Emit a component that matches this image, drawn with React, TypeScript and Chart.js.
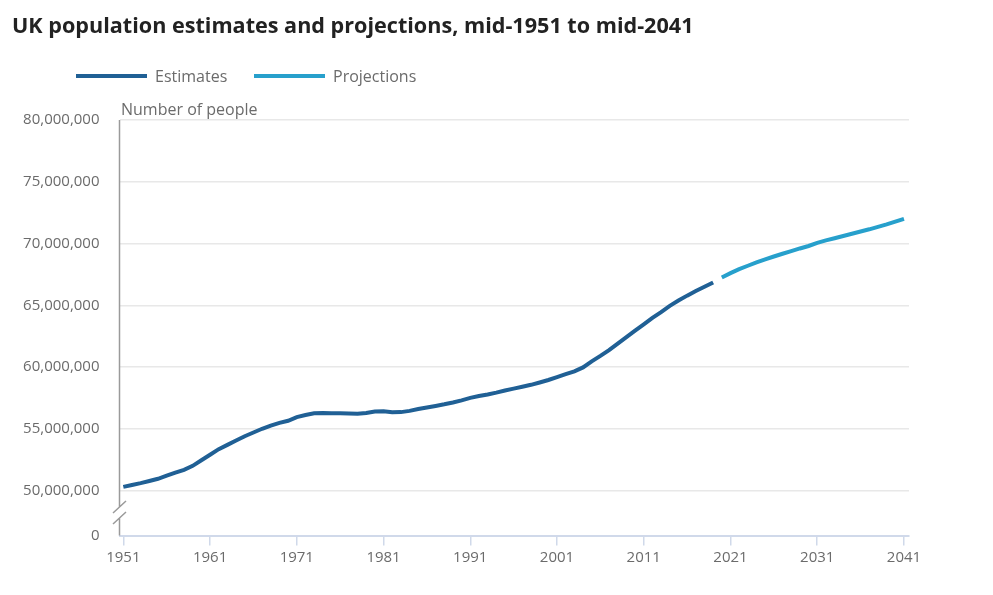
import { useEffect, useRef } from "react";
import { Chart, registerables } from "chart.js";

Chart.register(...registerables);

// population in millions
const estimateStartYear = 1951;
const estimates = [
  50.3, 50.45, 50.6, 50.77, 50.95, 51.2, 51.45, 51.68, 52.0, 52.45,
  52.9, 53.35, 53.7, 54.05, 54.4, 54.7, 55.0, 55.25, 55.48, 55.65,
  55.95, 56.12, 56.25, 56.27, 56.26, 56.25, 56.23, 56.21, 56.28, 56.4,
  56.42, 56.33, 56.35, 56.45, 56.6, 56.73, 56.85, 56.98, 57.13, 57.3,
  57.5, 57.65, 57.78, 57.93, 58.1, 58.25, 58.4, 58.56, 58.75, 58.95,
  59.18, 59.42, 59.65, 59.97, 60.46, 60.9, 61.37, 61.9, 62.42, 62.94,
  63.45, 63.98, 64.45, 64.95, 65.38, 65.78, 66.15, 66.5, 66.85,
];

const projectionStartYear = 2020;
const projections = [
  67.25, 67.6, 67.92, 68.2, 68.47, 68.72, 68.95, 69.17, 69.38, 69.6,
  69.8, 70.05, 70.25, 70.43, 70.61, 70.79, 70.97, 71.15, 71.35, 71.55,
  71.77, 72.0,
];

const xTickYears = [1951, 1961, 1971, 1981, 1991, 2001, 2011, 2021, 2031, 2041];
const yTickValues = [50, 55, 60, 65, 70, 75, 80];
const yBreakMin = 46.36; // shown as "0" below the axis break

const DARK = "#206095";
const LIGHT = "#27a0cc";
const GREY_TEXT = "#6b6b6b";

const axisBreak = {
  id: "axisBreak",
  afterDraw(chart: Chart) {
    const { ctx, chartArea } = chart;
    const x = chartArea.left;
    const y1 = chartArea.bottom - 28.5;
    const y2 = chartArea.bottom - 17.5;
    ctx.save();
    ctx.strokeStyle = "#9a9a9a";
    ctx.lineWidth = 1.5;
    ctx.beginPath();
    ctx.moveTo(x, chartArea.top);
    ctx.lineTo(x, y1);
    ctx.moveTo(x, y2);
    ctx.lineTo(x, chartArea.bottom);
    ctx.moveTo(x - 6.5, y1 + 6);
    ctx.lineTo(x + 6.5, y1 - 6);
    ctx.moveTo(x - 6.5, y2 + 6);
    ctx.lineTo(x + 6.5, y2 - 6);
    ctx.stroke();
    ctx.restore();
  },
};

export default function App() {
  const canvasRef = useRef<HTMLCanvasElement>(null);
  const chartRef = useRef<Chart | null>(null);

  useEffect(() => {
    document.body.style.margin = "0";
    if (!canvasRef.current) return;
    if (chartRef.current) chartRef.current.destroy();

    Chart.defaults.font.family = "'Open Sans', sans-serif";

    chartRef.current = new Chart(canvasRef.current, {
      type: "line",
      data: {
        datasets: [
          {
            label: "Estimates",
            data: estimates.map((v, i) => ({ x: estimateStartYear + i, y: v })),
            borderColor: DARK,
            backgroundColor: DARK,
            borderWidth: 4,
            pointRadius: 0,
            tension: 0,
          },
          {
            label: "Projections",
            data: projections.map((v, i) => ({ x: projectionStartYear + i, y: v })),
            borderColor: LIGHT,
            backgroundColor: LIGHT,
            borderWidth: 4,
            pointRadius: 0,
            tension: 0,
          },
        ],
      },
      options: {
        animation: false,
        responsive: true,
        maintainAspectRatio: false,
        layout: { padding: { top: 120, left: 0, right: 84, bottom: 0 } },
        plugins: {
          legend: { display: false },
          tooltip: { enabled: false },
        },
        scales: {
          x: {
            type: "linear",
            min: 1950.56,
            max: 2041.58,
            afterBuildTicks: (scale) => {
              scale.ticks = xTickYears.map((v) => ({ value: v }));
            },
            afterFit: (scale) => {
              scale.height = 59.5;
            },
            ticks: {
              color: GREY_TEXT,
              font: { size: 15 },
              padding: 3,
              maxRotation: 0,
              callback: (v) => String(v),
            },
            grid: {
              drawOnChartArea: false,
              drawTicks: true,
              tickLength: 10,
              color: "#d0d9ea",
              lineWidth: 1.5,
            },
            border: { color: "#d0d9ea", width: 2 },
          },
          y: {
            type: "linear",
            min: yBreakMin,
            max: 80,
            afterBuildTicks: (scale) => {
              scale.ticks = [yBreakMin, ...yTickValues].map((v) => ({ value: v }));
            },
            afterFit: (scale) => {
              scale.width = 119.5;
            },
            ticks: {
              color: GREY_TEXT,
              font: { size: 15 },
              padding: 20,
              callback: (v) =>
                v === yBreakMin ? "0" : (Number(v) * 1e6).toLocaleString("en-GB"),
            },
            grid: {
              drawTicks: false,
              lineWidth: 1.5,
              color: (c) => (c.tick && c.tick.value === yBreakMin ? "rgba(0,0,0,0)" : "#e8e8e8"),
            },
            border: { display: false },
          },
        },
      },
      plugins: [axisBreak],
    });

    return () => {
      chartRef.current?.destroy();
      chartRef.current = null;
    };
  }, []);

  const legendItem = (color: string, label: string, left: number) => (
    <div style={{ position: "absolute", left, top: 65, height: 22, display: "flex", alignItems: "center" }}>
      <div style={{ width: 71, height: 4, background: color }} />
      <span style={{ marginLeft: 8, fontSize: 16, color: GREY_TEXT, lineHeight: "22px" }}>{label}</span>
    </div>
  );

  return (
    <div
      style={{
        position: "relative",
        width: 993,
        height: 595,
        fontFamily: "'Open Sans', sans-serif",
        background: "#fff",
      }}
    >
      <div style={{ position: "absolute", inset: 0 }}>
        <canvas ref={canvasRef} />
      </div>
      <div
        style={{
          position: "absolute",
          left: 12,
          top: 10,
          fontSize: 21.6,
          fontWeight: 700,
          color: "#222",
          lineHeight: "30px",
          whiteSpace: "nowrap",
        }}
      >
        UK population estimates and projections, mid-1951 to mid-2041
      </div>
      {legendItem(DARK, "Estimates", 76)}
      {legendItem(LIGHT, "Projections", 254)}
      <div
        style={{
          position: "absolute",
          left: 121,
          top: 98,
          fontSize: 16,
          color: GREY_TEXT,
          lineHeight: "22px",
          whiteSpace: "nowrap",
        }}
      >
        Number of people
      </div>
    </div>
  );
}
